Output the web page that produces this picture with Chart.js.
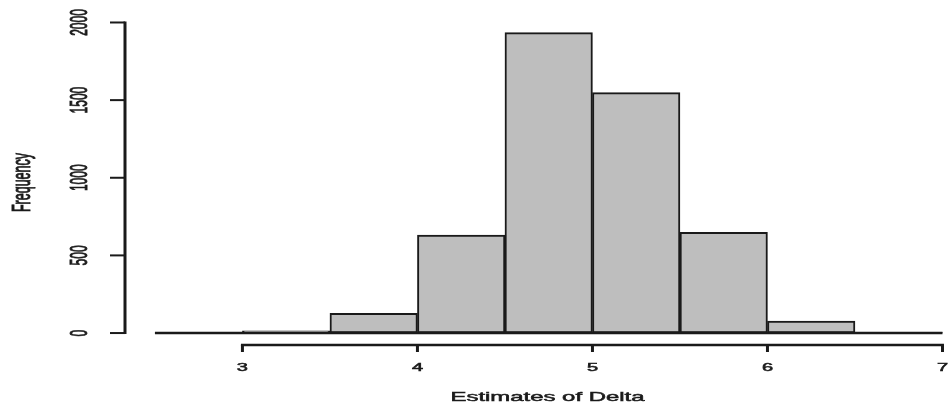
<!DOCTYPE html>
<html>
<head>
<meta charset="utf-8">
<title>Histogram of Delta estimates</title>
<script src="https://cdn.jsdelivr.net/npm/chart.js@4.4.1/dist/chart.umd.min.js"></script>
<style>
  html, body { margin: 0; padding: 0; background: #ffffff; }
  #wrap { width: 950px; height: 410px; }
</style>
</head>
<body>
<div id="wrap"><canvas id="hist" width="950" height="410"></canvas></div>
<script>
// Histogram bins (edges) and counts of the Delta estimates
const binEdges = [2.5, 3.0, 3.5, 4.0, 4.5, 5.0, 5.5, 6.0, 6.5, 7.0];
const binCounts = [0, 15, 127, 631, 1935, 1548, 649, 77, 3];

// Axis tick labels
const xTicks = [3, 4, 5, 6, 7];
const yTicks = [0, 500, 1000, 1500, 2000];

const xTitle = 'Estimates of Delta';
const yTitle = 'Frequency';

const binCentres = binCounts.map((_, i) => (binEdges[i] + binEdges[i + 1]) / 2);
const barData = binCounts.map((c, i) => ({ x: binCentres[i], y: c }));

const INK = '#1a1a1a';
const FONT = '"Liberation Sans", Arial, sans-serif';
const STRETCH = 2; // horizontal text stretch used for every label

function drawText(ctx, text, x, y, size, rotate, targetWidth) {
  ctx.save();
  ctx.font = size + 'px ' + FONT;
  ctx.fillStyle = INK;
  ctx.strokeStyle = INK;
  ctx.lineWidth = 0.5;
  ctx.textAlign = 'center';
  ctx.textBaseline = 'middle';
  let sx = STRETCH;
  if (targetWidth) sx = targetWidth / ctx.measureText(text).width;
  ctx.translate(x, y);
  ctx.scale(sx, 1);
  if (rotate) ctx.rotate(-Math.PI / 2);
  ctx.fillText(text, 0, 0);
  ctx.strokeText(text, 0, 0);
  ctx.restore();
}

// R-style axes, baseline and labels drawn from the chart's own scales
const rAxes = {
  id: 'rAxes',
  afterDatasetsDraw(chart) {
    const ctx = chart.ctx;
    const xs = chart.scales.x;
    const ys = chart.scales.y;
    const area = chart.chartArea;
    ctx.save();
    ctx.strokeStyle = INK;
    ctx.lineCap = 'butt';

    // baseline under all bins
    ctx.lineWidth = 2.5;
    ctx.beginPath();
    ctx.moveTo(xs.getPixelForValue(binEdges[0]), ys.getPixelForValue(0));
    ctx.lineTo(xs.getPixelForValue(binEdges[binEdges.length - 1]), ys.getPixelForValue(0));
    ctx.stroke();

    // x axis
    const xAxisY = area.bottom;
    ctx.lineWidth = 2.5;
    ctx.beginPath();
    ctx.moveTo(xs.getPixelForValue(xTicks[0]) - 1.5, xAxisY);
    ctx.lineTo(xs.getPixelForValue(xTicks[xTicks.length - 1]) + 1.5, xAxisY);
    ctx.stroke();
    ctx.lineWidth = 3;
    xTicks.forEach(t => {
      const px = xs.getPixelForValue(t);
      ctx.beginPath();
      ctx.moveTo(px, xAxisY);
      ctx.lineTo(px, xAxisY + 7);
      ctx.stroke();
      drawText(ctx, String(t), px, xAxisY + 23, 10, false);
    });

    // y axis
    const yAxisX = area.left;
    ctx.lineWidth = 3;
    ctx.beginPath();
    ctx.moveTo(yAxisX, ys.getPixelForValue(yTicks[0]) + 1);
    ctx.lineTo(yAxisX, ys.getPixelForValue(yTicks[yTicks.length - 1]) - 1);
    ctx.stroke();
    ctx.lineWidth = 2;
    yTicks.forEach(t => {
      const py = ys.getPixelForValue(t);
      ctx.beginPath();
      ctx.moveTo(yAxisX, py);
      ctx.lineTo(yAxisX - 15, py);
      ctx.stroke();
      drawText(ctx, String(t), 80, py, 12, true);
    });

    // axis titles
    drawText(ctx, xTitle, (area.left + 950) / 2 + 10, 397, 13, false, 194);
    drawText(ctx, yTitle, 23, (area.top + area.bottom) / 2, 12.5, true);
    ctx.restore();
  }
};

new Chart(document.getElementById('hist'), {
  type: 'bar',
  data: {
    datasets: [{
      data: barData,
      backgroundColor: '#bebebe',
      borderColor: INK,
      borderWidth: { top: 2, bottom: 2, left: 2, right: 2 },
      borderSkipped: false,
      barPercentage: 1,
      categoryPercentage: 1
    }]
  },
  options: {
    responsive: false,
    animation: false,
    devicePixelRatio: 1,
    layout: { padding: { left: 125, top: 20, right: 0, bottom: 65 } },
    plugins: { legend: { display: false }, tooltip: { enabled: false } },
    scales: {
      x: { type: 'linear', min: 2.329, max: 7.043, offset: false, display: false },
      y: { type: 'linear', min: -77, max: 2016, display: false }
    }
  },
  plugins: [rAxes]
});
</script>
</body>
</html>
